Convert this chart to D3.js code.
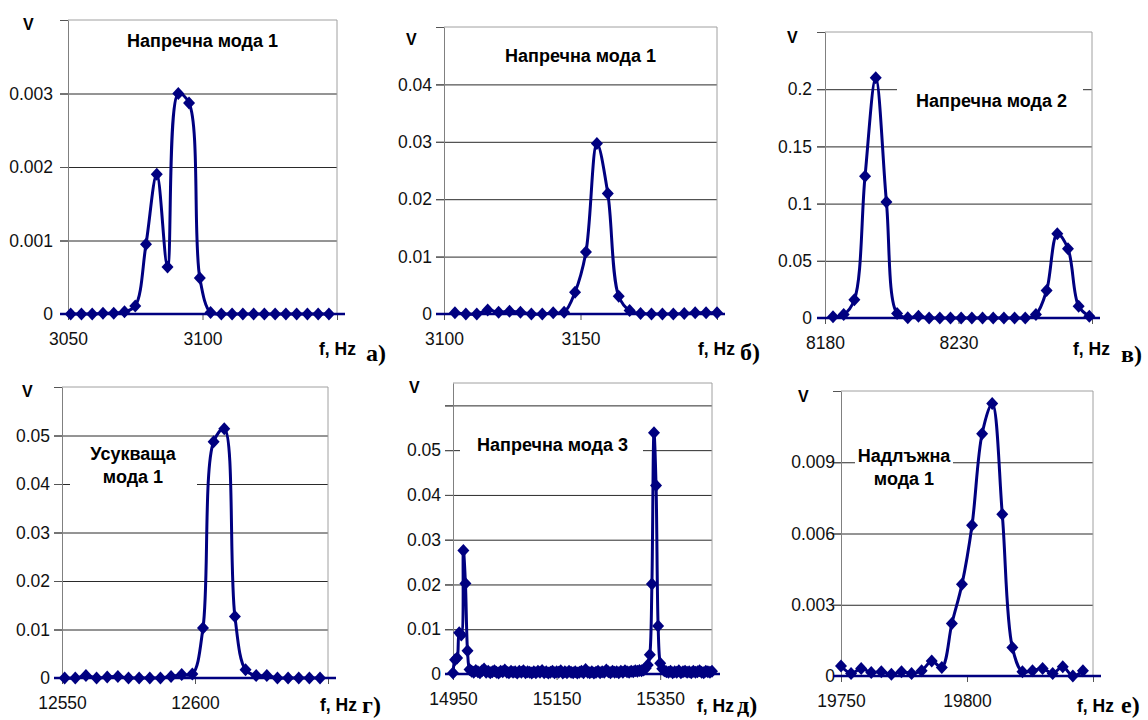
<!DOCTYPE html>
<meta charset="utf-8">
<script src="https://d3js.org/d3.v7.min.js"></script>
<style>
  body { margin: 0; background: #fff; }
  text { font-family: "Liberation Sans", Arial, sans-serif; }
</style>
<div id="chart"></div>
<script>

// ---- data: frequency (Hz) and amplitude (V) for each panel ----

// а) transverse mode 1
var freqA = [3051, 3055, 3059, 3063, 3067, 3071, 3075, 3079, 3083, 3087, 3091, 3095, 3099,
             3103, 3107, 3111, 3115, 3119, 3123, 3127, 3131, 3135, 3139, 3143, 3147];
var voltA = [0, 0, 0, 0.00001, 0.00001, 0.00003, 0.00011, 0.00095, 0.0019, 0.00064, 0.003, 0.00287, 0.00049,
             0.00002, 0, 0, 0, 0, 0, 0, 0, 0, 0, 0, 0];

// б) transverse mode 1
var freqB = [3104, 3108, 3112, 3116, 3120, 3124, 3128, 3132, 3136, 3140, 3144, 3148, 3152,
             3156, 3160, 3164, 3168, 3172, 3176, 3180, 3184, 3188, 3192, 3196, 3200];
var voltB = [0.0002, 0, 0, 0.0007, 0.0003, 0.0005, 0.0003, 0, 0, 0.0002, 0.0003, 0.0038, 0.0108,
             0.0297, 0.021, 0.0031, 0.0006, 0.0001, 0, 0, 0, 0.0001, 0.0002, 0.0002, 0.0002];

// в) transverse mode 2
var freqC = [8183, 8187, 8191, 8195, 8199, 8203, 8207, 8211, 8215, 8219, 8223, 8227, 8231,
             8235, 8239, 8243, 8247, 8251, 8255, 8259, 8263, 8267, 8271, 8275, 8279];
var voltC = [0.001, 0.003, 0.016, 0.124, 0.21, 0.1015, 0.004, 0.0003, 0.0015, 0, 0, 0, 0,
             0, 0, 0, 0, 0, 0, 0.003, 0.024, 0.0737, 0.0606, 0.0102, 0.0015];

// г) torsional mode 1
var freqD = [12551, 12555, 12559, 12563, 12567, 12571, 12575, 12579, 12583, 12587, 12591, 12595, 12599,
             12603, 12607, 12611, 12615, 12619, 12623, 12627, 12631, 12635, 12639, 12643, 12647];
var voltD = [0, 0, 0.0005, 0, 0.0002, 0.0003, 0, 0, 0, 0, 0.0003, 0.0007, 0.0008,
             0.0103, 0.0487, 0.0514, 0.0127, 0.0017, 0.0005, 0.0005, 0, 0, 0, 0, 0];

// д) transverse mode 3 (wide sweep)
var freqE = [14950, 14954, 14958, 14962, 14966, 14970, 14974, 14978, 14982, 14986,
             14990, 14994, 14998, 15002, 15006, 15010, 15014, 15018, 15022, 15026,
             15030, 15034, 15038, 15042, 15046, 15050, 15054, 15058, 15062, 15066,
             15070, 15074, 15078, 15082, 15086, 15090, 15094, 15098, 15102, 15106,
             15110, 15114, 15118, 15122, 15126, 15130, 15134, 15138, 15142, 15146,
             15150, 15154, 15158, 15162, 15166, 15170, 15174, 15178, 15182, 15186,
             15190, 15194, 15198, 15202, 15206, 15210, 15214, 15218, 15222, 15226,
             15230, 15234, 15238, 15242, 15246, 15250, 15254, 15258, 15262, 15266,
             15270, 15274, 15278, 15282, 15286, 15290, 15294, 15298, 15302, 15306,
             15310, 15314, 15318, 15322, 15326, 15330, 15334, 15338, 15342, 15346,
             15350, 15354, 15358, 15362, 15366, 15370, 15374, 15378, 15382, 15386,
             15390, 15394, 15398, 15402, 15406, 15410, 15414, 15418, 15422, 15426,
             15430, 15434, 15438, 15442, 15446, 15450];
var voltE = [0.0002, 0.0032, 0.0036, 0.0092, 0.0087, 0.0276, 0.0202, 0.0052, 0.0010, 0.0006,
             0.0004, 0.0008, 0.0005, 0.0003, 0.0007, 0.0011, 0.0004, 0.0006, 0.0003, 0.0005,
             0.0007, 0.0004, 0.0002, 0.0006, 0.0005, 0.0009, 0.0004, 0.0003, 0.0006, 0.0004,
             0.0005, 0.0002, 0.0006, 0.0004, 0.0007, 0.0003, 0.0005, 0.0004, 0.0002, 0.0005,
             0.0003, 0.0006, 0.0004, 0.0008, 0.0003, 0.0005, 0.0002, 0.0004, 0.0006, 0.0003,
             0.0005, 0.0004, 0.0007, 0.0002, 0.0005, 0.0003, 0.0006, 0.0004, 0.0003, 0.0005,
             0.0002, 0.0004, 0.0006, 0.0003, 0.0010, 0.0004, 0.0003, 0.0005, 0.0002, 0.0004,
             0.0006, 0.0003, 0.0005, 0.0004, 0.0009, 0.0005, 0.0003, 0.0006, 0.0004, 0.0005,
             0.0003, 0.0006, 0.0004, 0.0007, 0.0005, 0.0004, 0.0006, 0.0005, 0.0007, 0.0006,
             0.0008, 0.0007, 0.0009, 0.0013, 0.0020, 0.0043, 0.0201, 0.0539, 0.0421, 0.0107,
             0.0024, 0.0012, 0.0007, 0.0005, 0.0004, 0.0006, 0.0003, 0.0005, 0.0004, 0.0007,
             0.0003, 0.0005, 0.0006, 0.0004, 0.0005, 0.0003, 0.0006, 0.0004, 0.0005, 0.0007,
             0.0004, 0.0003, 0.0006, 0.0005, 0.0004, 0.0006];

// е) longitudinal mode 1
var freqF = [19750, 19754, 19758, 19762, 19766, 19770, 19774, 19778, 19782, 19786, 19790, 19794, 19798,
             19802, 19806, 19810, 19814, 19818, 19822, 19826, 19830, 19834, 19838, 19842, 19846];
var voltF = [0.00042, 0.00011, 0.00032, 0.00015, 0.00018, 0.00007, 0.00018, 0.00011, 0.00022, 0.00063, 0.00036, 0.00221, 0.00386,
             0.00635, 0.0102, 0.01147, 0.00681, 0.0012, 0.00018, 0.00022, 0.00032, 0.00011, 0.00039, 0, 0.00022];

// ---- axis ticks / labels ----
var xTicksA = [3050, 3100, 3150],     xLabelsA = [3050, 3100];
var xTicksB = [3100, 3150, 3200],     xLabelsB = [3100, 3150];
var xTicksC = [8180, 8230, 8280],     xLabelsC = [8180, 8230];
var xTicksD = [12550, 12600, 12650],  xLabelsD = [12550, 12600];
var xTicksE = [14950, 15150, 15350],  xLabelsE = [14950, 15150, 15350];
var xTicksF = [19750, 19800, 19850],  xLabelsF = [19750, 19800];

var yTicksA = [0, 0.001, 0.002, 0.003, 0.004];
var yTicksB = [0, 0.01, 0.02, 0.03, 0.04, 0.05];
var yTicksC = [0, 0.05, 0.1, 0.15, 0.2, 0.25];
var yTicksD = [0, 0.01, 0.02, 0.03, 0.04, 0.05, 0.06];
var yTicksE = [0, 0.01, 0.02, 0.03, 0.04, 0.05, 0.06];
var yTicksF = [0, 0.003, 0.006, 0.009, 0.012];
// top tick value is hidden under the "V" label in every panel, д also hides 0.06
var yLabelsA = [0, 0.001, 0.002, 0.003];
var yLabelsB = [0, 0.01, 0.02, 0.03, 0.04];
var yLabelsC = [0, 0.05, 0.1, 0.15, 0.2];
var yLabelsD = [0, 0.01, 0.02, 0.03, 0.04, 0.05];
var yLabelsE = [0, 0.01, 0.02, 0.03, 0.04, 0.05];
var yLabelsF = [0, 0.003, 0.006, 0.009];

var titlesA = ["Напречна мода 1"], titlesB = ["Напречна мода 1"], titlesC = ["Напречна мода 2"];
var titlesD = ["Усукваща", "мода 1"], titlesE = ["Напречна мода 3"], titlesF = ["Надлъжна", "мода 1"];

// ---- layout of the six panels ----
var panels = [
  {f: freqA, v: voltA, xTicks: xTicksA, xLabels: xLabelsA, yTicks: yTicksA, yLabels: yLabelsA, titles: titlesA,
   xDomain: [3050, 3150], yDomain: [0, 0.004], left: 68, right: 337, top: 20, bottom: 314, gap: 15,
   vPos: [23, 30], titlePos: [127, 47, "start"], box: null, fPos: [319, 355], letter: "а)", letterPos: [366, 361]},
  {f: freqB, v: voltB, xTicks: xTicksB, xLabels: xLabelsB, yTicks: yTicksB, yLabels: yLabelsB, titles: titlesB,
   xDomain: [3100, 3200], yDomain: [0, 0.05], left: 444, right: 717, top: 27, bottom: 314, gap: 12,
   vPos: [406, 45], titlePos: [505, 62, "start"], box: null, fPos: [698, 355], letter: "б)", letterPos: [740, 360]},
  {f: freqC, v: voltC, xTicks: xTicksC, xLabels: xLabelsC, yTicks: yTicksC, yLabels: yLabelsC, titles: titlesC,
   xDomain: [8180, 8280], yDomain: [0, 0.25], left: 825, right: 1092, top: 32, bottom: 318, gap: 13,
   vPos: [787, 43], titlePos: [916, 107, "start"], box: [897, 84, 186, 32], fPos: [1073, 355], letter: "в)", letterPos: [1121, 362]},
  {f: freqD, v: voltD, xTicks: xTicksD, xLabels: xLabelsD, yTicks: yTicksD, yLabels: yLabelsD, titles: titlesD,
   xDomain: [12550, 12650], yDomain: [0, 0.06], left: 62, right: 328, top: 387, bottom: 678, gap: 12,
   vPos: [22, 397], titlePos: [133, 460, "middle"], box: [70, 442, 127, 50], fPos: [320, 711], letter: "г)", letterPos: [362, 713]},
  {f: freqE, v: voltE, xTicks: xTicksE, xLabels: xLabelsE, yTicks: yTicksE, yLabels: yLabelsE, titles: titlesE,
   xDomain: [14950, 15450], yDomain: [0, 0.065], left: 453, right: 712, top: 383, bottom: 674, gap: 12,
   vPos: [409, 393], titlePos: [477, 451, "start"], box: [460, 432, 183, 30], fPos: [697, 712], letter: "д)", letterPos: [737, 713]},
  {f: freqF, v: voltF, xTicks: xTicksF, xLabels: xLabelsF, yTicks: yTicksF, yLabels: yLabelsF, titles: titlesF,
   xDomain: [19750, 19850], yDomain: [0, 0.012], left: 841, right: 1093, top: 391, bottom: 676, gap: 6,
   vPos: [798, 402], titlePos: [904, 462, "middle"], box: [855, 445, 98, 46], fPos: [1077, 712], letter: "е)", letterPos: [1121, 713]}
];

var navy = "#000080";
var diamond = "M0,-6.5L6,0L0,6.5L-6,0Z";

var svg = d3.select("#chart")
  .append("svg")
    .attr("width", 1148)
    .attr("height", 720);

panels.forEach(function(p) {
  var x = d3.scaleLinear().domain(p.xDomain).range([p.left, p.right]);
  var y = d3.scaleLinear().domain(p.yDomain).range([p.bottom, p.top]);
  var g = svg.append("g");

  // horizontal gridlines (start at the outer end of the y tick marks)
  var grid = p.yTicks.filter(function(d) { return d > 0 && y(d) > p.top + 2; });
  g.append("g")
    .attr("transform", "translate(" + p.right + ",0)")
    .call(d3.axisLeft(y).tickValues(grid).tickSize(p.right - p.left + 8).tickFormat(""))
    .call(function(a) { a.select(".domain").remove(); })
    .selectAll("line").attr("stroke", "#2a2a2a");

  // plot area border, top and right
  g.append("path")
    .attr("d", "M" + p.left + "," + p.top + "H" + p.right + "V" + p.bottom)
    .attr("fill", "none")
    .attr("stroke", "#a0a0a0");

  // white text box behind the mode name
  if (p.box) {
    g.append("rect")
      .attr("x", p.box[0]).attr("y", p.box[1])
      .attr("width", p.box[2]).attr("height", p.box[3])
      .attr("fill", "#fff");
  }

  // y axis
  var yAxis = g.append("g")
    .attr("transform", "translate(" + p.left + ",0)")
    .call(d3.axisLeft(y).tickValues(p.yTicks).tickSizeInner(8).tickSizeOuter(0)
      .tickPadding(p.gap - 8)
      .tickFormat(function(d) { return p.yLabels.indexOf(d) >= 0 ? String(d) : ""; }));
  yAxis.select(".domain").attr("stroke", "#808080");
  yAxis.selectAll("line").attr("stroke", "#555");
  yAxis.selectAll("text").style("font-size", "17.5px").attr("fill", "#111");

  // x axis
  var xAxis = g.append("g")
    .attr("transform", "translate(0," + p.bottom + ")")
    .call(d3.axisBottom(x).tickValues(p.xTicks).tickSizeInner(6).tickSizeOuter(0)
      .tickPadding(13)
      .tickFormat(function(d) { return p.xLabels.indexOf(d) >= 0 ? String(d) : ""; }));
  xAxis.select(".domain").attr("stroke", "#808080");
  xAxis.selectAll("line").attr("stroke", "#555");
  xAxis.selectAll("text").style("font-size", "17.5px").attr("fill", "#111");

  // the zero line drawn in series colour, slightly past the plot area
  g.append("line")
    .attr("x1", p.left - 8).attr("x2", p.right + 8)
    .attr("y1", y(0)).attr("y2", y(0))
    .attr("stroke", navy)
    .attr("stroke-width", 2.5);

  var data = p.f.map(function(d, i) { return {f: d, v: p.v[i]}; });

  g.append("path")
    .datum(data)
    .attr("fill", "none")
    .attr("stroke", navy)
    .attr("stroke-width", 3)
    .attr("stroke-linejoin", "round")
    .attr("d", d3.line()
      .x(function(d) { return x(d.f); })
      .y(function(d) { return y(d.v); })
      .curve(d3.curveCatmullRom.alpha(0.5)));

  g.selectAll(".mark")
    .data(data)
    .enter().append("path")
      .attr("class", "mark")
      .attr("d", diamond)
      .attr("transform", function(d) { return "translate(" + x(d.f) + "," + y(d.v) + ")"; })
      .attr("fill", navy);

  // labels
  g.append("text")
    .attr("x", p.vPos[0]).attr("y", p.vPos[1])
    .style("font-size", "16px").style("font-weight", "bold")
    .text("V");

  p.titles.forEach(function(t, i) {
    g.append("text")
      .attr("x", p.titlePos[0]).attr("y", p.titlePos[1] + i * 23)
      .attr("text-anchor", p.titlePos[2])
      .style("font-size", "18px").style("font-weight", "bold")
      .text(t);
  });

  g.append("text")
    .attr("x", p.fPos[0]).attr("y", p.fPos[1])
    .style("font-size", "17.5px").style("font-weight", "bold")
    .text("f, Hz");

  g.append("text")
    .attr("x", p.letterPos[0]).attr("y", p.letterPos[1])
    .style("font-family", "'Liberation Serif', 'Times New Roman', serif")
    .style("font-size", "24px").style("font-weight", "bold")
    .text(p.letter);
});

</script>
